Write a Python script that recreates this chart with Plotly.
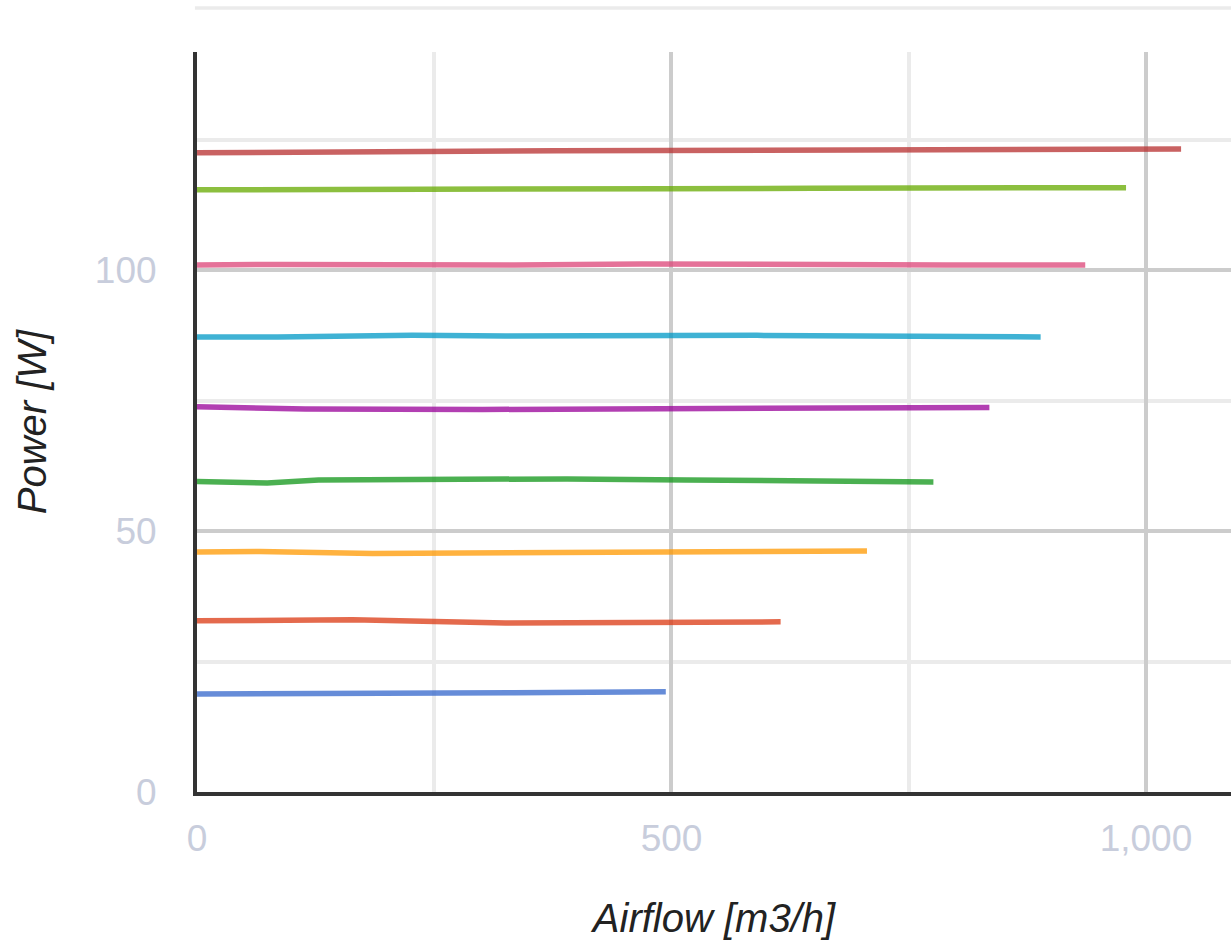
import plotly.graph_objects as go

# airflow [m3/h] and power [W], one list pair per fan step
airflow_1 = [0, 47, 129, 188, 258, 335, 494]
power_1 = [18.8, 18.8, 18.9, 18.9, 19.0, 19.0, 19.2]

airflow_2 = [0, 63, 164, 325, 418, 615]
power_2 = [32.8, 32.9, 33.0, 32.4, 32.5, 32.6]

airflow_3 = [0, 66, 185, 629, 706]
power_3 = [46.0, 46.1, 45.7, 46.1, 46.2]

airflow_4 = [0, 74, 128, 390, 516, 776]
power_4 = [59.5, 59.2, 59.8, 60.0, 59.8, 59.4]

airflow_5 = [0, 114, 301, 704, 835]
power_5 = [73.8, 73.4, 73.3, 73.8, 73.7]

airflow_6 = [0, 85, 227, 325, 590, 750, 889]
power_6 = [87.2, 87.2, 87.5, 87.4, 87.5, 87.3, 87.2]

airflow_7 = [0, 89, 335, 468, 789, 936]
power_7 = [101.0, 101.1, 101.0, 101.2, 101.0, 101.0]

airflow_8 = [0, 164, 492, 649, 979]
power_8 = [115.4, 115.4, 115.6, 115.7, 115.8]

airflow_9 = [0, 175, 379, 695, 884, 1037]
power_9 = [122.5, 122.7, 122.9, 123.0, 123.2, 123.2]

x_ticks = [0, 500, 1000]
y_ticks = [0, 50, 100]

# google charts default palette
colors = ["#3366cc", "#dc3912", "#ff9900", "#109618", "#990099",
          "#0099c6", "#dd4477", "#66aa00", "#b82e2e"]

series = [(airflow_1, power_1), (airflow_2, power_2), (airflow_3, power_3),
          (airflow_4, power_4), (airflow_5, power_5), (airflow_6, power_6),
          (airflow_7, power_7), (airflow_8, power_8), (airflow_9, power_9)]

fig = go.Figure()
for (x, y), c in zip(series, colors):
    fig.add_trace(go.Scatter(x=x, y=y, mode="lines", showlegend=False,
                             line=dict(color=c, width=5.5), opacity=0.75))

tick_font = dict(family="Liberation Sans, Arial", size=37, color="#c8cddc")
title_font = dict(family="Liberation Sans, Arial", size=40, color="#222222", style="italic")

fig.update_xaxes(range=[0, 1089.6], tickvals=x_ticks, tickformat=",",
                 showgrid=True, gridcolor="#cccccc", gridwidth=3.5,
                 minor=dict(dtick=250, showgrid=True, gridcolor="#ebebeb", gridwidth=3.5),
                 showline=True, linecolor="#333333", linewidth=4, zeroline=False,
                 ticks="", ticklabelstandoff=11, tickfont=tick_font,
                 title=dict(text="Airflow [m3/h]", font=title_font, standoff=47))
fig.update_yaxes(range=[0, 141.8], tickvals=y_ticks,
                 showgrid=True, gridcolor="#cccccc", gridwidth=3.5,
                 minor=dict(dtick=25, showgrid=True, gridcolor="#ebebeb", gridwidth=3.5),
                 showline=True, linecolor="#333333", linewidth=4, zeroline=False,
                 ticks="", ticklabelstandoff=29, tickfont=tick_font,
                 title=dict(text="Power [W]", font=title_font, standoff=37))

# stray gridline above the plot area
fig.add_shape(type="line", xref="paper", yref="paper", x0=-0.002, x1=1, y0=1.0595, y1=1.0595,
              line=dict(color="#ebebeb", width=3.5))

fig.update_layout(width=1231, height=946, margin=dict(l=197, r=0, t=52, b=154),
                  plot_bgcolor="white", paper_bgcolor="white")

fig.write_html("out.html", config={"displayModeBar": False},
               post_script="document.body.style.margin='0';document.body.style.overflow='hidden';")
